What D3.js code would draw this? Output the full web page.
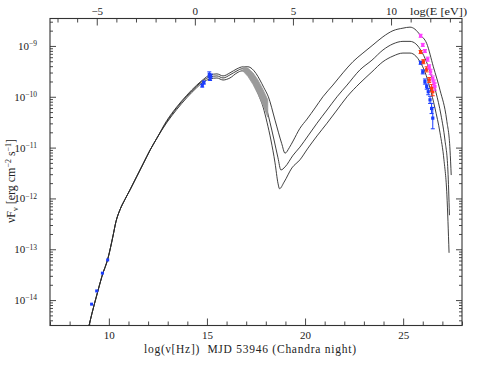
<!DOCTYPE html>
<html>
<head>
<meta charset="utf-8">
<script src="https://cdn.jsdelivr.net/npm/d3@7"></script>
<style>
    body { margin: 0; background: #fff; }
    svg { display: block; background: #fff; }
    .axis path { display: none; }
    .axis line { stroke: #333; stroke-width: 0.9; }
    text { font-family: "Liberation Serif", "DejaVu Serif", serif; fill: #222; }
</style>
</head>
<body>
<svg id="chart" width="491" height="367"></svg>
<script>
// Tick labels
const nuTicks = [10, 15, 20, 25];
const eTicks = [-5, 0, 5, 10];
const yDecades = [-14, -13, -12, -11, -10, -9];

// Model curves: log(nu), log(nuFnu). Low-frequency part is shared
const commonNu = [8.9, 9.14, 9.40, 9.65, 9.96, 10.21, 10.36, 10.57, 10.82, 11.08, 11.42, 11.76, 12.10, 12.44];
const commonF = [-14.65, -14.26, -13.88, -13.53, -13.17, -12.74, -12.46, -12.22, -12.02, -11.83, -11.57, -11.31, -11.05, -10.82];

const upperNu = [12.95, 13.46, 13.97, 14.48, 14.81, 15.15, 15.51, 15.82, 16.17, 16.53, 16.84, 17.09, 17.30, 17.50, 17.70, 17.90, 18.13, 18.47, 18.81, 18.98, 19.20, 19.39, 19.74, 20.10, 20.51, 20.91, 21.42, 21.93, 22.44, 22.95, 23.46, 23.97, 24.48, 24.99, 25.35, 25.60, 25.86, 26.20, 26.54, 26.88, 27.22, 27.39, 27.45];
const upperF = [-10.47, -10.20, -9.97, -9.77, -9.66, -9.57, -9.55, -9.59, -9.53, -9.45, -9.41, -9.41, -9.45, -9.54, -9.67, -9.82, -10.00, -10.46, -10.92, -11.11, -11.00, -10.87, -10.62, -10.44, -10.22, -10.00, -9.77, -9.53, -9.31, -9.14, -8.98, -8.82, -8.70, -8.65, -8.63, -8.67, -8.78, -8.95, -9.41, -9.87, -10.46, -11.05, -11.54];

const middleNu = [12.95, 13.46, 13.97, 14.48, 14.81, 15.15, 15.51, 15.82, 16.17, 16.53, 16.79, 17.04, 17.24, 17.45, 17.70, 17.96, 18.21, 18.42, 18.62, 18.77, 18.98, 19.39, 19.74, 20.15, 20.61, 21.12, 21.63, 22.14, 22.80, 23.41, 23.97, 24.48, 24.99, 25.35, 25.65, 25.86, 26.11, 26.37, 26.67, 26.93, 27.13, 27.28, 27.36];
const middleF = [-10.49, -10.22, -9.99, -9.79, -9.68, -9.61, -9.59, -9.63, -9.57, -9.49, -9.45, -9.45, -9.51, -9.65, -9.85, -10.12, -10.50, -10.85, -11.20, -11.44, -11.38, -11.15, -10.99, -10.77, -10.52, -10.26, -10.00, -9.77, -9.47, -9.28, -9.08, -8.96, -8.91, -8.91, -8.96, -9.06, -9.24, -9.51, -9.91, -10.36, -10.85, -11.44, -12.33];

const lowerNu = [12.95, 13.46, 13.97, 14.48, 14.81, 15.15, 15.51, 15.82, 16.17, 16.53, 16.79, 16.99, 17.19, 17.40, 17.65, 17.86, 18.06, 18.26, 18.47, 18.62, 18.70, 18.93, 19.33, 19.74, 20.15, 20.61, 21.12, 21.63, 22.14, 22.80, 23.41, 23.97, 24.48, 24.99, 25.35, 25.65, 25.86, 26.11, 26.37, 26.62, 26.88, 27.08, 27.23, 27.34];
const lowerF = [-10.51, -10.25, -10.02, -9.82, -9.71, -9.65, -9.63, -9.67, -9.63, -9.53, -9.49, -9.51, -9.59, -9.75, -9.98, -10.20, -10.50, -10.85, -11.30, -11.70, -11.81, -11.68, -11.40, -11.24, -11.01, -10.77, -10.52, -10.26, -10.00, -9.73, -9.51, -9.31, -9.20, -9.14, -9.14, -9.20, -9.31, -9.51, -9.83, -10.22, -10.71, -11.24, -11.93, -13.07];

// Chandra X-ray band (grey): upper and lower edges
const xrayNu = [16.85, 17.09, 17.35, 17.60, 17.86, 18.10];
const xrayHi = [-9.40, -9.44, -9.53, -9.67, -9.86, -10.06];
const xrayLo = [-9.50, -9.60, -9.76, -9.95, -10.17, -10.40];

// Radio + optical points (blue)
const radioNu = [9.12, 9.38, 9.67, 9.94];
const radioF = [-14.08, -13.82, -13.47, -13.21];
const optNu = [14.76, 14.84, 15.12, 15.16, 15.19];
const optF = [-9.78, -9.72, -9.56, -9.64, -9.59];
const optErr = [0.03, 0.03, 0.05, 0.04, 0.04];

// Gamma-ray points
const magNu = [25.89, 26.00, 26.11, 26.25, 26.33, 26.40, 26.51, 26.57, 26.62];
const magF = [-8.80, -8.98, -9.10, -9.26, -9.41, -9.51, -9.64, -9.73, -9.80];
const magErr = [0.03, 0.03, 0.03, 0.04, 0.04, 0.05, 0.05, 0.06, 0.07];
const redNu = [25.89, 26.03, 26.20, 26.33, 26.45, 26.51];
const redF = [-9.12, -9.31, -9.46, -9.67, -9.83, -9.90];
const redErr = [0.03, 0.04, 0.05, 0.05, 0.07, 0.08];
const blueNu = [25.89, 26.00, 26.11, 26.20, 26.28, 26.37, 26.45, 26.51];
const blueF = [-9.33, -9.51, -9.70, -9.80, -9.90, -10.06, -10.23, -10.42];
const blueErr = [0.03, 0.04, 0.05, 0.05, 0.06, 0.07, 0.10, 0.21];

const pLeft = 50, pRight = 462, pTop = 18.5, pBottom = 325.5;
const hToEv = 14.383;
const labelFont = '"Liberation Serif", "DejaVu Serif", serif';

const svg = d3.select('#chart');
const x = d3.scaleLinear().domain([7, 28]).range([pLeft, pRight]);
const xE = d3.scaleLinear().domain([7 - hToEv, 28 - hToEv]).range([pLeft, pRight]);
const y = d3.scaleLinear().domain([-14.5, -8.46]).range([pBottom, pTop]);

// Axes (ticks point inwards)
const minorNu = d3.range(7, 29).filter(v => !nuTicks.includes(v));
const minorE = d3.range(-7, 14).filter(v => !eTicks.includes(v));
const minorY = [];
for (let d = -15; d <= -9; d++) {
    for (let k = 2; k <= 9; k++) {
        const v = d + Math.log10(k);
        if (v > -14.5 && v < -8.46) minorY.push(v);
    }
}

svg.append('g').attr('class', 'axis').attr('transform', `translate(0,${pBottom})`)
    .call(d3.axisBottom(x).tickValues(minorNu).tickSizeInner(-4).tickSizeOuter(0).tickFormat(''));
svg.append('g').attr('class', 'axis').attr('transform', `translate(0,${pBottom})`)
    .call(d3.axisBottom(x).tickValues(nuTicks).tickSizeInner(-7).tickSizeOuter(0).tickPadding(6))
    .selectAll('text').attr('font-size', 11).attr('font-family', labelFont).attr('fill', '#222');

svg.append('g').attr('class', 'axis').attr('transform', `translate(0,${pTop})`)
    .call(d3.axisTop(xE).tickValues(minorE).tickSizeInner(-4).tickSizeOuter(0).tickFormat(''));
svg.append('g').attr('class', 'axis').attr('transform', `translate(0,${pTop})`)
    .call(d3.axisTop(xE).tickValues(eTicks).tickSizeInner(-7).tickSizeOuter(0).tickPadding(4)
        .tickFormat(d => d < 0 ? '\u2212' + Math.abs(d) : d))
    .selectAll('text').attr('font-size', 11).attr('font-family', labelFont).attr('fill', '#222');

svg.append('g').attr('class', 'axis').attr('transform', `translate(${pLeft},0)`)
    .call(d3.axisLeft(y).tickValues(minorY).tickSizeInner(-3).tickSizeOuter(0).tickFormat(''));
const yAx = svg.append('g').attr('class', 'axis').attr('transform', `translate(${pLeft},0)`)
    .call(d3.axisLeft(y).tickValues(yDecades).tickSizeInner(-6).tickSizeOuter(0).tickPadding(13));
yAx.selectAll('text').attr('font-size', 11).attr('font-family', labelFont).attr('fill', '#222')
    .each(function(d) {
        const t = d3.select(this).text('');
        t.append('tspan').text('10');
        t.append('tspan').attr('font-size', 7.5).attr('dy', '-0.5em').text('\u2212' + Math.abs(d));
    });

svg.append('g').attr('class', 'axis').attr('transform', `translate(${pRight},0)`)
    .call(d3.axisRight(y).tickValues(minorY).tickSizeInner(-3).tickSizeOuter(0).tickFormat(''));
svg.append('g').attr('class', 'axis').attr('transform', `translate(${pRight},0)`)
    .call(d3.axisRight(y).tickValues(yDecades).tickSizeInner(-6).tickSizeOuter(0).tickFormat(''));

// Frame
svg.append('rect').attr('x', pLeft).attr('y', pTop).attr('width', pRight - pLeft).attr('height', pBottom - pTop)
    .attr('fill', 'none').attr('stroke', '#333').attr('stroke-width', 1.1);

// Clip region for the model curves
svg.append('defs').append('clipPath').attr('id', 'plotClip').append('rect')
    .attr('x', pLeft).attr('y', pTop).attr('width', pRight - pLeft).attr('height', pBottom - pTop);

// Model curves
const line = d3.line().x(d => x(d[0])).y(d => y(d[1])).curve(d3.curveMonotoneX);
const curves = [[upperNu, upperF], [middleNu, middleF], [lowerNu, lowerF]];
const curveG = svg.append('g').attr('clip-path', 'url(#plotClip)');
curves.forEach(([nu, f]) => {
    const pts = commonNu.map((n, i) => [n, commonF[i]]).concat(nu.map((n, i) => [n, f[i]]));
    curveG.append('path').datum(pts)
        .attr('fill', 'none').attr('stroke', '#2a2a2a').attr('stroke-width', 0.9)
        .attr('d', line);
});

// X-ray band polygon (upper edge, then lower edge backwards), drawn over the curves
const bandPts = xrayNu.map((n, i) => [n, xrayHi[i]])
    .concat(xrayNu.map((n, i) => [n, xrayLo[i]]).reverse());
svg.append('path')
    .attr('d', d3.line().x(d => x(d[0])).y(d => y(d[1]))(bandPts) + 'Z')
    .attr('fill', '#9a9a9a').attr('stroke', '#9a9a9a').attr('stroke-width', 0.8);

// Data points with error bars
function drawPoints(nu, f, err, color, size) {
    const g = svg.append('g');
    nu.forEach((n, i) => {
        const cx = x(n), cy = y(f[i]);
        if (err && err[i]) {
            const y1 = y(f[i] + err[i]), y2 = y(f[i] - err[i]);
            g.append('line').attr('x1', cx).attr('x2', cx).attr('y1', y1).attr('y2', y2)
                .attr('stroke', color).attr('stroke-width', 1);
            [y1, y2].forEach(yy => g.append('line').attr('x1', cx - 2).attr('x2', cx + 2)
                .attr('y1', yy).attr('y2', yy).attr('stroke', color).attr('stroke-width', 1));
        }
        g.append('rect').attr('x', cx - size / 2).attr('y', cy - size / 2)
            .attr('width', size).attr('height', size).attr('fill', color);
    });
}
drawPoints(radioNu, radioF, null, '#1a3cff', 3);
drawPoints(optNu, optF, optErr, '#1a3cff', 3.2);
drawPoints(blueNu, blueF, blueErr, '#1a3cff', 3.2);
drawPoints(redNu, redF, redErr, '#ff3a10', 3.2);
drawPoints(magNu, magF, magErr, '#ff40ff', 3.2);

// Axis titles
svg.append('text').attr('x', 467).attr('y', 15).attr('text-anchor', 'end').attr('font-size', 11)
    .attr('textLength', 57).attr('lengthAdjust', 'spacingAndGlyphs')
    .text('log(E [eV])');

svg.append('text').attr('x', 250).attr('y', 353).attr('text-anchor', 'middle').attr('font-size', 11.5)
    .attr('textLength', 212).attr('lengthAdjust', 'spacing')
    .text('log(\u03bd[Hz])\u00a0\u00a0MJD 53946 (Chandra night)');

const yl = svg.append('text').attr('transform', 'translate(15,181) rotate(-90)')
    .attr('text-anchor', 'middle').attr('font-size', 12);
yl.append('tspan').text('\u03bdF');
yl.append('tspan').attr('font-size', 8).attr('dy', '0.35em').text('\u03bd');
yl.append('tspan').attr('dy', '-0.23em').text('\u00a0[erg cm');
yl.append('tspan').attr('font-size', 8).attr('dy', '-0.5em').text('\u22122');
yl.append('tspan').attr('dy', '0.33em').text('\u00a0s');
yl.append('tspan').attr('font-size', 8).attr('dy', '-0.5em').text('\u22121');
yl.append('tspan').attr('dy', '0.33em').text(']');
</script>
</body>
</html>
